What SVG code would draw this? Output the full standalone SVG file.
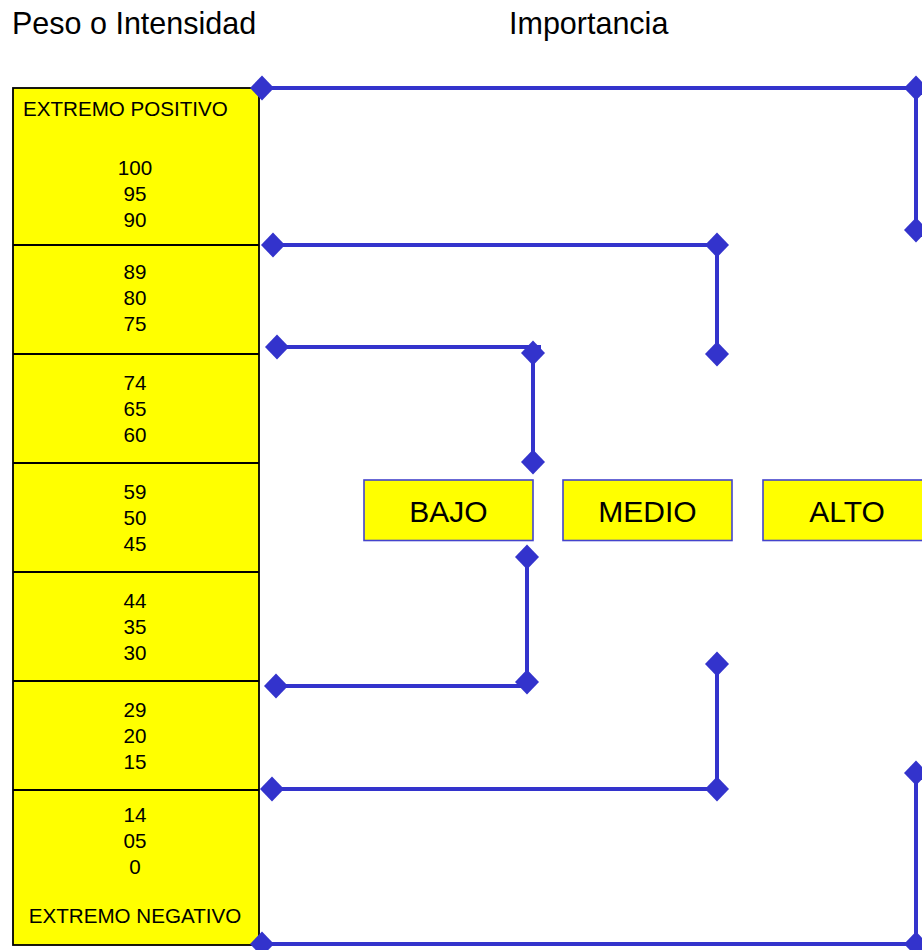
<svg xmlns="http://www.w3.org/2000/svg" xmlns:xlink="http://www.w3.org/1999/xlink" width="922" height="950" viewBox="0 0 922 950">
<style>
  .title { font-family: "Liberation Sans", Arial, sans-serif; font-size: 30.5px; fill: #000; }
  .cell { font-family: "Liberation Sans", Arial, sans-serif; font-size: 20.6px; fill: #000; text-anchor: middle; }
  .lbl { font-family: "Liberation Sans", Arial, sans-serif; font-size: 30px; fill: #000; text-anchor: middle; }
  .col { fill: #FFFF00; stroke: #000; stroke-width: 1.8; }
  .div { stroke: #000; stroke-width: 1.8; }
  .box { fill: #FFFF00; stroke: #4444CC; stroke-width: 1.6; }
  .wire { fill: none; stroke: #3333CC; stroke-width: 4; }
  .dia { fill: #3333CC; }
</style>
<defs>
  <polygon id="d" class="dia" points="0,-12.5 12,0 0,12.5 -12,0"/>
</defs>
<rect width="922" height="950" fill="#fff"/>
<text class="title" x="12" y="34">Peso o Intensidad</text>
<text class="title" x="509" y="34">Importancia</text>

<g id="scale">
  <rect class="col" x="13" y="88" width="246" height="857"/>
  <line class="div" x1="13" y1="245" x2="259" y2="245"/>
  <line class="div" x1="13" y1="354" x2="259" y2="354"/>
  <line class="div" x1="13" y1="463" x2="259" y2="463"/>
  <line class="div" x1="13" y1="572" x2="259" y2="572"/>
  <line class="div" x1="13" y1="681" x2="259" y2="681"/>
  <line class="div" x1="13" y1="790" x2="259" y2="790"/>
  <text class="cell" x="23" y="116" text-anchor="start" style="text-anchor:start">EXTREMO POSITIVO</text>
  <text class="cell" x="135" y="175">100</text>
  <text class="cell" x="135" y="201">95</text>
  <text class="cell" x="135" y="227">90</text>
  <text class="cell" x="135" y="279">89</text>
  <text class="cell" x="135" y="305">80</text>
  <text class="cell" x="135" y="331">75</text>
  <text class="cell" x="135" y="390">74</text>
  <text class="cell" x="135" y="416">65</text>
  <text class="cell" x="135" y="442">60</text>
  <text class="cell" x="135" y="499">59</text>
  <text class="cell" x="135" y="525">50</text>
  <text class="cell" x="135" y="551">45</text>
  <text class="cell" x="135" y="608">44</text>
  <text class="cell" x="135" y="634">35</text>
  <text class="cell" x="135" y="660">30</text>
  <text class="cell" x="135" y="717">29</text>
  <text class="cell" x="135" y="743">20</text>
  <text class="cell" x="135" y="769">15</text>
  <text class="cell" x="135" y="822">14</text>
  <text class="cell" x="135" y="848">05</text>
  <text class="cell" x="135" y="874">0</text>
  <text class="cell" x="135" y="923">EXTREMO NEGATIVO</text>
</g>

<g id="bajo">
  <rect class="box" x="364" y="480" width="169" height="60.5"/>
  <text class="lbl" x="448.5" y="521.5">BAJO</text>
</g>
<g id="medio">
  <rect class="box" x="563" y="480" width="169" height="60.5"/>
  <text class="lbl" x="647.5" y="521.5">MEDIO</text>
</g>
<g id="alto">
  <rect class="box" x="763" y="480" width="169" height="60.5"/>
  <text class="lbl" x="847" y="521.5">ALTO</text>
</g>

<g id="connectors">
  <polyline class="wire" points="262,88 916,88 916,230"/>
  <polyline class="wire" points="273,245 717,245 717,354"/>
  <polyline class="wire" points="277,347 541,347"/>
  <polyline class="wire" points="533,353 533,462"/>
  <polyline class="wire" points="527,557 527,682"/>
  <polyline class="wire" points="276,686 527,686"/>
  <polyline class="wire" points="717,664 717,789 272,789"/>
  <polyline class="wire" points="916,773 916,944 262,944"/>
  <use xlink:href="#d" x="262" y="88"/>
  <use xlink:href="#d" x="916" y="88"/>
  <use xlink:href="#d" x="916" y="230"/>
  <use xlink:href="#d" x="273" y="245"/>
  <use xlink:href="#d" x="717" y="245"/>
  <use xlink:href="#d" x="717" y="354"/>
  <use xlink:href="#d" x="277" y="347"/>
  <use xlink:href="#d" x="533" y="353"/>
  <use xlink:href="#d" x="533" y="462"/>
  <use xlink:href="#d" x="527" y="557"/>
  <use xlink:href="#d" x="527" y="682"/>
  <use xlink:href="#d" x="276" y="686"/>
  <use xlink:href="#d" x="717" y="664"/>
  <use xlink:href="#d" x="717" y="789"/>
  <use xlink:href="#d" x="272" y="789"/>
  <use xlink:href="#d" x="916" y="773"/>
  <use xlink:href="#d" x="916" y="944"/>
  <use xlink:href="#d" x="262" y="944"/>
</g>
</svg>
